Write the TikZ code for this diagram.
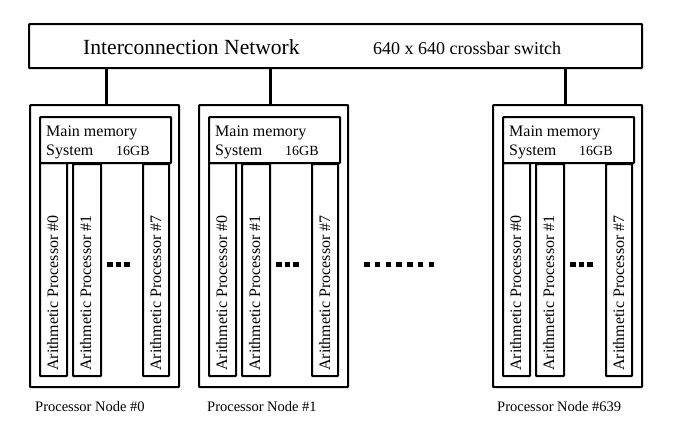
\documentclass[tikz,border=0pt]{standalone}
\usepackage{fontspec}
\setmainfont{Liberation Serif}
\begin{document}
\begin{tikzpicture}[x=1pt,y=-1pt,
  box/.style={draw, line width=2.2pt, rounded corners=0.8pt, inner sep=0pt, anchor=north west},
  wire/.style={line width=3pt},
  txt/.style={inner sep=0pt, anchor=base west},
  aptext/.style={txt, rotate=90, font=\fontsize{16}{18}\selectfont},
  memtext/.style={txt, font=\fontsize{16}{18}\selectfont},
  sq/.style={fill=black}]
\useasboundingbox (0,0) rectangle (685,439);
\node[box, minimum width=613pt, minimum height=44pt] (net) at (28,23) {};
\node[txt, font=\fontsize{21.6}{24}\selectfont] (nettext) at (83,54) {Interconnection Network};
\node[txt, font=\fontsize{18}{20}\selectfont] (xbar) at (373,54) {640 x 640 crossbar switch};
\foreach \n/\x/\lx/\lab/\cs in {0/29/35/0/1.5, 1/198/207/1/-3.5, 639/492/497/639/-2.5}{
  \node[box, minimum width=149pt, minimum height=282pt] (pn\n) at (\x,104) {};
  \node[box, minimum width=131pt, minimum height=46pt] (mem\n) at (\x+10,116) {};
  \node[memtext] (mm\n) at (\x+17,136) {Main memory};
  \node[memtext] (sys\n) at (\x+17,155) {System};
  \node[txt, font=\fontsize{14}{16}\selectfont] (gb\n) at (\x+87,155) {16GB};
  \node[box, minimum width=27pt, minimum height=213pt] (ap\n-0) at (\x+10,162) {};
  \node[box, minimum width=28pt, minimum height=212pt] (ap\n-1) at (\x+43,163) {};
  \node[box, minimum width=26pt, minimum height=212pt] (ap\n-7) at (\x+113,163) {};
  \node[aptext] (apt\n-0) at (\x+29,371) {Arithmetic Processor \#0};
  \node[aptext] (apt\n-1) at (\x+62,371) {Arithmetic Processor \#1};
  \node[aptext] (apt\n-7) at (\x+132,371) {Arithmetic Processor \#7};
  \foreach \k in {0,1,2}{
    \fill[sq] (\x+78+\k*8.5,261.5) rectangle ++(5.5,5.5);
  }
  \node[txt, font=\fontsize{14.5}{16}\selectfont] (pl\n) at (\lx,411) {Processor Node \#\lab};
  \coordinate (c\n) at ([xshift=\cs pt]pn\n.north);
  \draw[wire] (c\n) -- (c\n |- net.south);
}
\foreach \k in {0,...,6}{
  \fill[sq] (364+\k*10.75,261.5) rectangle ++(5.5,5.5);
}
\end{tikzpicture}
\end{document}
